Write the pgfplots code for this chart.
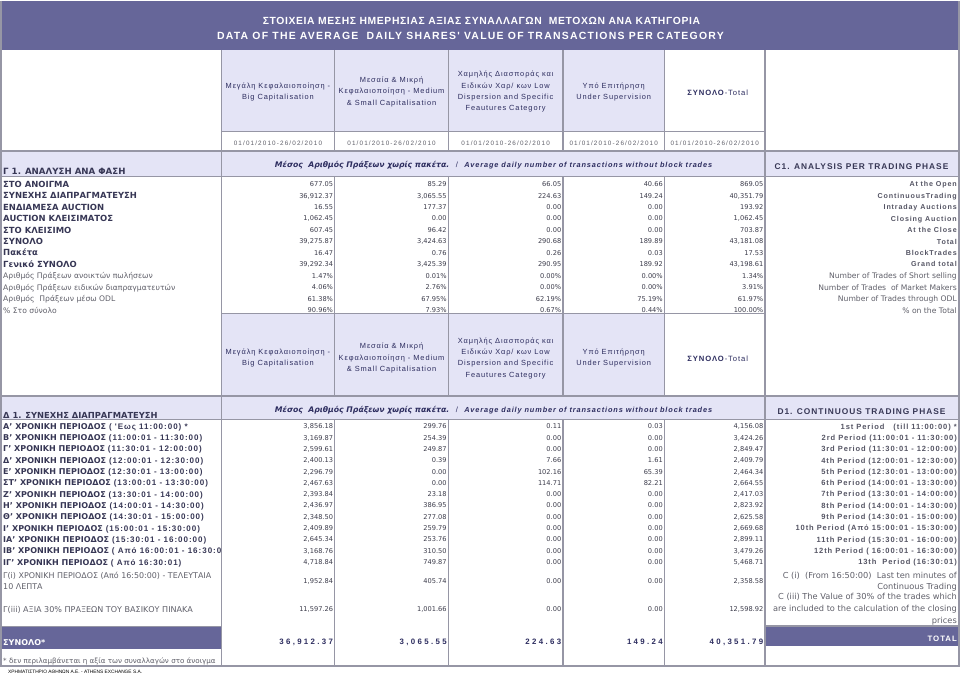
\documentclass[border=0pt]{standalone}
\usepackage{pgfplots}
\pgfplotsset{compat=1.18}
\usepackage{pgfplotstable}
\usepackage{fontspec}
\setmainfont{DejaVu Sans}
\newfontfamily\af{Liberation Sans}
\newfontfamily\afs{Liberation Sans}[LetterSpace=12]
\newfontfamily\ats{Liberation Sans}[LetterSpace=6]
\newfontfamily\aft{Liberation Sans}[LetterSpace=30]
\newfontfamily\ads{Liberation Sans}[LetterSpace=18]
\definecolor{purp}{RGB}{102,102,153}
\definecolor{lav}{RGB}{228,228,246}
\definecolor{gridc}{RGB}{150,150,165}
\definecolor{labc}{RGB}{55,55,85}
\definecolor{valc}{RGB}{60,60,75}
\definecolor{rlc}{RGB}{85,85,100}
\definecolor{hdc}{RGB}{45,45,95}
\definecolor{grayc}{RGB}{95,95,105}

% Section 1: average daily values per trading phase
\pgfplotstableread{
y c1 c2 c3 c4 c5
183.5 677.05 85.29 66.05 40.66 869.05
194.9 36912.37 3065.55 224.63 149.24 40351.79
206.3 16.55 177.37 0.00 0.00 193.92
217.7 1062.45 0.00 0.00 0.00 1062.45
229.1 607.45 96.42 0.00 0.00 703.87
240.5 39275.87 3424.63 290.68 189.89 43181.08
251.9 16.47 0.76 0.26 0.03 17.53
263.3 39292.34 3425.39 290.95 189.92 43198.61
}\Tone
\pgfplotstableread{
y c1 c2 c3 c4 c5
274.7 1.47 0.01 0.00 0.00 1.34
286.1 4.06 2.76 0.00 0.00 3.91
297.5 61.38 67.95 62.19 75.19 61.97
308.9 90.96 7.93 0.67 0.44 100.00
}\Pone
% Section 2: continuous trading per period
\pgfplotstableread{
y c1 c2 c3 c4 c5
424.5 3856.18 299.76 0.11 0.03 4156.08
435.75 3169.87 254.39 0.00 0.00 3424.26
447.0 2599.61 249.87 0.00 0.00 2849.47
458.25 2400.13 0.39 7.66 1.61 2409.79
469.5 2296.79 0.00 102.16 65.39 2464.34
480.75 2467.63 0.00 114.71 82.21 2664.55
492.0 2393.84 23.18 0.00 0.00 2417.03
503.25 2436.97 386.95 0.00 0.00 2823.92
514.5 2348.50 277.08 0.00 0.00 2625.58
525.75 2409.89 259.79 0.00 0.00 2669.68
537.0 2645.34 253.76 0.00 0.00 2899.11
548.25 3168.76 310.50 0.00 0.00 3479.26
559.5 4718.84 749.87 0.00 0.00 5468.71
578.5 1952.84 405.74 0.00 0.00 2358.58
606.5 11597.26 1001.66 0.00 0.00 12598.92
}\Ttwo
\pgfplotstableread{
y c1 c2 c3 c4 c5
639.0 36912.37 3065.55 224.63 149.24 40351.79
}\Ttot

\pgfplotsset{
  valstyle/.style={draw=none, mark=none, point meta=explicit,
    nodes near coords={\pgfmathprintnumber[fixed,fixed zerofill,precision=2,1000 sep={,},assume math mode=true]{\pgfplotspointmeta}#1},
    nodes near coords style={anchor=base east, inner sep=0pt, yshift=-4.3pt, font=\fontsize{6.6}{7}\selectfont, text=valc}},
  totstyle/.style={draw=none, mark=none, point meta=explicit,
    nodes near coords={\pgfmathprintnumber[fixed,fixed zerofill,precision=2,1000 sep={,},assume math mode=true]{\pgfplotspointmeta}},
    nodes near coords style={anchor=base east, inner sep=0pt, yshift=-4.6pt, font=\aft\bfseries\fontsize{7.8}{8}\selectfont, text=hdc}},
}

\newcommand\Lb[2]{\node[anchor=base west,inner sep=0pt,text=labc,font=\bfseries\fontsize{8.4}{9}\selectfont] at (5,#1+4.9) {#2};}
\newcommand\Lr[2]{\node[anchor=base west,inner sep=0pt,text=grayc,font=\fontsize{7.6}{8}\selectfont] at (5,#1+4.7) {#2};}
\newcommand\Rb[2]{\node[anchor=base east,inner sep=0pt,text=rlc,font=\afs\bfseries\fontsize{7.1}{8}\selectfont] at (954,#1+4.5) {#2};}
\newcommand\Rr[2]{\node[anchor=base east,inner sep=0pt,text=grayc,font=\fontsize{7.6}{8}\selectfont] at (954,#1+4.7) {#2};}
\newcommand\Pl[2]{\node[anchor=base west,inner sep=0pt,text=labc,font=\bfseries\fontsize{8}{9}\selectfont] at (5,#1+4.8) {#2};}
\newcommand\Prr[2]{\node[anchor=base east,inner sep=0pt,text=rlc,font=\afs\bfseries\fontsize{7.5}{8}\selectfont] at (954,#1+4.6) {#2};}
\newcommand\Hd[3]{\node[align=center,inner sep=0pt,text=hdc,font=\afs\fontsize{7.4}{11.3}\selectfont] at (#1,#2) {#3};}
\newcommand\Dt[1]{\node[inner sep=0pt,text=grayc,font=\ads\fontsize{6.3}{7}\selectfont] at (#1,144.5) {01/01/2010-26/02/2010};}
\newcommand\Band[1]{%
  \node[inner sep=0pt,text=hdc] at (493,#1) {{\itshape\bfseries\fontsize{7.7}{8}\selectfont Μέσος\ \ Αριθμός Πράξεων χωρίς πακέτα.}\ \ {\af\fontsize{7.6}{8}\selectfont /}\ \ {\afs\itshape\bfseries\fontsize{7.3}{8}\selectfont Average daily number of transactions without block trades}};}
\newcommand\Vl[1]{%
  \draw[gridc, line width=1.3pt] (#1,52) -- (#1,152);
  \draw[gridc, line width=1.3pt] (#1,178) -- (#1,396);
  \draw[gridc, line width=1.3pt] (#1,420) -- (#1,665);}

\begin{document}
\begin{tikzpicture}
\begin{axis}[x=1pt, y=1pt, xmin=0, xmax=960, ymin=0, ymax=673, y dir=reverse,
  hide axis, clip=false]

% ---------- fills ----------
\fill[purp] (3,3) rectangle (957,52);
\fill[lav] (222,52) rectangle (663,133);
\fill[lav] (3,152) rectangle (956,178);
\fill[lav] (222,314) rectangle (663,396);
\fill[lav] (3,396) rectangle (956,420);
\fill[purp] (3,625.5) rectangle (222,648);
\fill[purp] (763,625) rectangle (956,645);

% ---------- grid lines ----------
\draw[gridc, line width=1pt] (222,133) -- (763,133);
\draw[gridc, line width=2pt] (3,152) -- (956,152);
\draw[gridc, line width=1pt] (3,178) -- (956,178);
\draw[gridc, line width=1pt] (222,314) -- (763,314);
\draw[gridc, line width=1.4pt] (3,396) -- (956,396);
\draw[gridc, line width=1pt] (3,420) -- (956,420);
\draw[gridc, line width=1.4pt] (3,625.5) -- (222,625.5);
\draw[gridc, line width=1.4pt] (763,625) -- (956,625);
\draw[gridc, line width=1.3pt] (222,52) -- (222,665);
\draw[gridc, line width=1.3pt] (763,52) -- (763,665);
\Vl{335}\Vl{448}\Vl{562}\Vl{663}
\draw[gridc, line width=1.6pt] (3,3) -- (3,665) -- (956,665) -- (956,3);

% ---------- title ----------
\node[text=white, font=\ats\bfseries\fontsize{10.3}{12}\selectfont, inner sep=0pt] at (481,23) {ΣΤΟΙΧΕΙΑ ΜΕΣΗΣ ΗΜΕΡΗΣΙΑΣ ΑΞΙΑΣ ΣΥΝΑΛΛΑΓΩΝ\ \ ΜΕΤΟΧΩΝ ΑΝΑ ΚΑΤΗΓΟΡΙΑ};
\node[text=white, font=\afs\bfseries\fontsize{10.4}{12}\selectfont, inner sep=0pt] at (470,37.5) {DATA OF THE AVERAGE\ \ DAILY SHARES' VALUE OF TRANSACTIONS PER CATEGORY};

% ---------- column headers, section 1 ----------
\Hd{278.5}{93.5}{Μεγάλη Κεφαλαιοποίηση -\\Big Capitalisation}
\Hd{391.5}{93.5}{Μεσαία \& Μικρή\\Κεφαλαιοποίηση - Medium\\\& Small Capitalisation}
\Hd{505}{93.5}{Χαμηλής Διασποράς και\\Ειδικών Χαρ/ κων Low\\Dispersion and Specific\\Feautures Category}
\Hd{612.5}{93.5}{Υπό Επιτήρηση\\Under Supervision}
\node[inner sep=0pt,text=hdc,font=\afs\fontsize{7.6}{10}\selectfont] at (716,94) {\textbf{ΣΥΝΟΛΟ}-Total};
\Dt{278.5}\Dt{391.5}\Dt{505}\Dt{612.5}\Dt{713}

% ---------- section 1 band ----------
\node[anchor=base west,inner sep=0pt,text=labc,font=\bfseries\fontsize{8.6}{9}\selectfont] at (5,175.5) {Γ 1. ΑΝΑΛΥΣΗ ΑΝΑ ΦΑΣΗ};
\Band{166.5}
\node[inner sep=0pt,text=labc,font=\afs\bfseries\fontsize{8.3}{9}\selectfont] at (859,168) {C1. ANALYSIS PER TRADING PHASE};

% ---------- section 1 row labels ----------
\Lb{183.5}{ΣΤΟ ΑΝΟΙΓΜΑ}
\Lb{194.9}{ΣΥΝΕΧΗΣ ΔΙΑΠΡΑΓΜΑΤΕΥΣΗ}
\Lb{206.3}{ΕΝΔΙΑΜΕΣΑ AUCTION}
\Lb{217.7}{AUCTION ΚΛΕΙΣΙΜΑΤΟΣ}
\Lb{229.1}{ΣΤΟ ΚΛΕΙΣΙΜΟ}
\Lb{240.5}{ΣΥΝΟΛΟ}
\Lb{251.9}{Πακέτα}
\Lb{263.3}{Γενικό ΣΥΝΟΛΟ}
\Lr{274.7}{Αριθμός Πράξεων ανοικτών πωλήσεων}
\Lr{286.1}{Αριθμός Πράξεων ειδικών διαπραγματευτών}
\Lr{297.5}{Αριθμός\ \ Πράξεων μέσω ODL}
\Lr{308.9}{\% Στο σύνολο}
\Rb{183.5}{At the Open}
\Rb{194.9}{ContinuousTrading}
\Rb{206.3}{Intraday Auctions}
\Rb{217.7}{Closing Auction}
\Rb{229.1}{At the Close}
\Rb{240.5}{Total}
\Rb{251.9}{BlockTrades}
\Rb{263.3}{Grand total}
\Rr{274.7}{Number of Trades of Short selling}
\Rr{286.1}{Number of Trades\ \ of Market Makers}
\Rr{297.5}{Number of Trades through ODL}
\Rr{308.9}{\% on the Total}

% ---------- section 1 values ----------
\addplot[valstyle=] table[x expr=333.5, y=y, meta=c1] {\Tone};
\addplot[valstyle=] table[x expr=446.5, y=y, meta=c2] {\Tone};
\addplot[valstyle=] table[x expr=560.5, y=y, meta=c3] {\Tone};
\addplot[valstyle=] table[x expr=661.5, y=y, meta=c4] {\Tone};
\addplot[valstyle=] table[x expr=761.5, y=y, meta=c5] {\Tone};
\addplot[valstyle=\%] table[x expr=333.5, y=y, meta=c1] {\Pone};
\addplot[valstyle=\%] table[x expr=446.5, y=y, meta=c2] {\Pone};
\addplot[valstyle=\%] table[x expr=560.5, y=y, meta=c3] {\Pone};
\addplot[valstyle=\%] table[x expr=661.5, y=y, meta=c4] {\Pone};
\addplot[valstyle=\%] table[x expr=761.5, y=y, meta=c5] {\Pone};

% ---------- column headers, section 2 ----------
\Hd{278.5}{358.5}{Μεγάλη Κεφαλαιοποίηση -\\Big Capitalisation}
\Hd{391.5}{358.5}{Μεσαία \& Μικρή\\Κεφαλαιοποίηση - Medium\\\& Small Capitalisation}
\Hd{505}{358.5}{Χαμηλής Διασποράς και\\Ειδικών Χαρ/ κων Low\\Dispersion and Specific\\Feautures Category}
\Hd{612.5}{358.5}{Υπό Επιτήρηση\\Under Supervision}
\node[inner sep=0pt,text=hdc,font=\afs\fontsize{7.6}{10}\selectfont] at (716,359) {\textbf{ΣΥΝΟΛΟ}-Total};

% ---------- section 2 band ----------
\node[anchor=base west,inner sep=0pt,text=labc,font=\bfseries\fontsize{8.3}{9}\selectfont] at (5,418.5) {Δ 1. ΣΥΝΕΧΗΣ ΔΙΑΠΡΑΓΜΑΤΕΥΣΗ};
\Band{410}
\node[inner sep=0pt,text=labc,font=\afs\bfseries\fontsize{8.3}{9}\selectfont] at (859,411.5) {D1. CONTINUOUS TRADING PHASE};

% ---------- section 2 row labels ----------
\Pl{424.5}{Α' ΧΡΟΝΙΚΗ ΠΕΡΙΟΔΟΣ {\afs ( 'Εως 11:00:00) *}}
\Pl{435.75}{Β' ΧΡΟΝΙΚΗ ΠΕΡΙΟΔΟΣ {\afs (11:00:01 - 11:30:00)}}
\Pl{447.0}{Γ' ΧΡΟΝΙΚΗ ΠΕΡΙΟΔΟΣ {\afs (11:30:01 - 12:00:00)}}
\Pl{458.25}{Δ' ΧΡΟΝΙΚΗ ΠΕΡΙΟΔΟΣ {\afs (12:00:01 - 12:30:00)}}
\Pl{469.5}{Ε' ΧΡΟΝΙΚΗ ΠΕΡΙΟΔΟΣ {\afs (12:30:01 - 13:00:00)}}
\Pl{480.75}{ΣΤ' ΧΡΟΝΙΚΗ ΠΕΡΙΟΔΟΣ {\afs (13:00:01 - 13:30:00)}}
\Pl{492.0}{Ζ' ΧΡΟΝΙΚΗ ΠΕΡΙΟΔΟΣ {\afs (13:30:01 - 14:00:00)}}
\Pl{503.25}{Η' ΧΡΟΝΙΚΗ ΠΕΡΙΟΔΟΣ {\afs (14:00:01 - 14:30:00)}}
\Pl{514.5}{Θ' ΧΡΟΝΙΚΗ ΠΕΡΙΟΔΟΣ {\afs (14:30:01 - 15:00:00)}}
\Pl{525.75}{Ι' ΧΡΟΝΙΚΗ ΠΕΡΙΟΔΟΣ {\afs (15:00:01 - 15:30:00)}}
\Pl{537.0}{ΙΑ' ΧΡΟΝΙΚΗ ΠΕΡΙΟΔΟΣ {\afs (15:30:01 - 16:00:00)}}
\Pl{548.25}{ΙΒ' ΧΡΟΝΙΚΗ ΠΕΡΙΟΔΟΣ {\afs ( Από 16:00:01 - 16:30:0}}
\Pl{559.5}{ΙΓ' ΧΡΟΝΙΚΗ ΠΕΡΙΟΔΟΣ {\afs ( Από 16:30:01)}}
\node[anchor=north west,inner sep=0pt,align=left,text=grayc,font=\fontsize{7.9}{11.5}\selectfont] at (5,571) {Γ(i) ΧΡΟΝΙΚΗ ΠΕΡΙΟΔΟΣ (Από 16:50:00) - ΤΕΛΕΥΤΑΙΑ\\10 ΛΕΠΤΑ};
\node[anchor=base west,inner sep=0pt,text=grayc,font=\fontsize{8}{9}\selectfont] at (5,611.4) {Γ(iii) ΑΞΙΑ 30\% ΠΡΑΞΕΩΝ ΤΟΥ ΒΑΣΙΚΟΥ ΠΙΝΑΚΑ};
\node[anchor=base west,inner sep=0pt,text=white,font=\bfseries\fontsize{8}{9}\selectfont] at (5,644.5) {ΣΥΝΟΛΟ*};
\node[anchor=base west,inner sep=0pt,text=grayc,font=\fontsize{7.1}{8}\selectfont] at (5,662.3) {* δεν περιλαμβάνεται η αξία των συναλλαγών στο άνοιγμα};
\node[anchor=base west,inner sep=0pt,text=black,font=\af\fontsize{4.8}{6}\selectfont] at (10,672) {ΧΡΗΜΑΤΙΣΤΗΡΙΟ ΑΘΗΝΩΝ Α.Ε. - ATHENS EXCHANGE S.A.};

\Prr{424.5}{1st Period\ \ \ (till 11:00:00) *}
\Prr{435.75}{2rd Period (11:00:01 - 11:30:00)}
\Prr{447.0}{3rd Period (11:30:01 - 12:00:00)}
\Prr{458.25}{4th Period (12:00:01 - 12:30:00)}
\Prr{469.5}{5th Period (12:30:01 - 13:00:00)}
\Prr{480.75}{6th Period (14:00:01 - 13:30:00)}
\Prr{492.0}{7th Period (13:30:01 - 14:00:00)}
\Prr{503.25}{8th Period (14:00:01 - 14:30:00)}
\Prr{514.5}{9th Period (14:30:01 - 15:00:00)}
\Prr{525.75}{10th Period (Από 15:00:01 - 15:30:00)}
\Prr{537.0}{11th Period (15:30:01 - 16:00:00)}
\Prr{548.25}{12th Period ( 16:00:01 - 16:30:00)}
\Prr{559.5}{13th\ \ Period (16:30:01)}
\node[anchor=north east,inner sep=0pt,align=right,text=grayc,font=\fontsize{8.2}{11.6}\selectfont] at (954,571) {C (i)\ \ (From 16:50:00)\ \ Last ten minutes of\\Continuous Trading};
\node[anchor=north east,inner sep=0pt,align=right,text=grayc,font=\fontsize{8.2}{11.6}\selectfont] at (954,592.5) {C (iii) The Value of 30\% of the trades which\\are included to the calculation of the closing\\prices};
\node[anchor=base east,inner sep=0pt,text=white,font=\afs\bfseries\fontsize{7.8}{8}\selectfont] at (954,640) {TOTAL};

% ---------- section 2 values ----------
\addplot[valstyle=] table[x expr=333.5, y=y, meta=c1] {\Ttwo};
\addplot[valstyle=] table[x expr=446.5, y=y, meta=c2] {\Ttwo};
\addplot[valstyle=] table[x expr=560.5, y=y, meta=c3] {\Ttwo};
\addplot[valstyle=] table[x expr=661.5, y=y, meta=c4] {\Ttwo};
\addplot[valstyle=] table[x expr=761.5, y=y, meta=c5] {\Ttwo};
\addplot[totstyle] table[x expr=333.5, y=y, meta=c1] {\Ttot};
\addplot[totstyle] table[x expr=446.5, y=y, meta=c2] {\Ttot};
\addplot[totstyle] table[x expr=560.5, y=y, meta=c3] {\Ttot};
\addplot[totstyle] table[x expr=661.5, y=y, meta=c4] {\Ttot};
\addplot[totstyle] table[x expr=761.5, y=y, meta=c5] {\Ttot};
\end{axis}
\end{tikzpicture}
\end{document}
